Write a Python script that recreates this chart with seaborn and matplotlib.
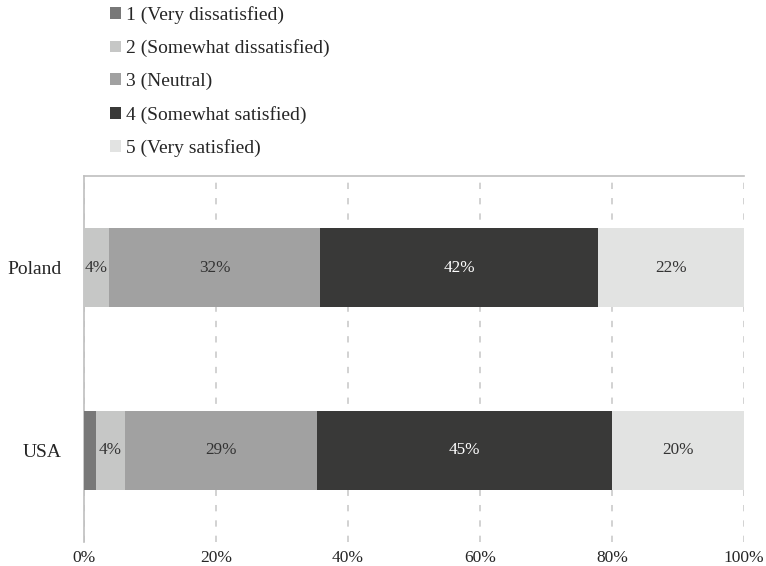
import matplotlib
matplotlib.use("Agg")
import matplotlib.pyplot as plt
from matplotlib.patches import Patch
from matplotlib.ticker import PercentFormatter
import numpy as np
import pandas as pd
import seaborn as sns

sns.set_style("white")
plt.rcParams["font.family"] = ["Liberation Serif", "DejaVu Serif"]

countries = ["Poland", "USA"]
levels = ["1 (Very dissatisfied)", "2 (Somewhat dissatisfied)", "3 (Neutral)",
          "4 (Somewhat satisfied)", "5 (Very satisfied)"]
poland = [0.0, 3.8, 32.0, 42.1, 22.1]
usa = [1.8, 4.4, 29.1, 44.7, 20.0]
colors = ["#787878", "#c6c7c6", "#a1a1a1", "#393938", "#e2e3e2"]
label_colors = ["#333333", "#333333", "#333333", "#ffffff", "#333333"]

df = pd.DataFrame([poland, usa], index=countries, columns=levels)
cum = df.cumsum(axis=1)

fig = plt.figure(figsize=(7.66, 5.66), dpi=100)
ax = fig.add_axes([84 / 766, 24 / 566, 660 / 766, 366 / 566])

# stacked look: draw cumulative totals from the widest down
for i in reversed(range(len(levels))):
    sns.barplot(x=cum[levels[i]].values, y=countries, orient="h", color=colors[i],
                saturation=1, width=0.437, linewidth=0, ax=ax, zorder=3)

for i, lev in enumerate(levels):
    for j, c in enumerate(countries):
        v = df.loc[c, lev]
        if v < 3:
            continue
        x = cum.loc[c, lev] - v / 2
        ax.text(x, j, f"{v:.0f}%", ha="center", va="center", fontsize=12.3,
                color=label_colors[i], zorder=4)

ax.set_xlim(0, 100)
ax.set_ylim(1.5, -0.5)
ax.set_xticks(range(0, 101, 20))
ax.xaxis.set_major_formatter(PercentFormatter(decimals=0))
ax.xaxis.grid(True, linestyle=(0, (3.5, 5)), color="#cfcfcf", linewidth=1.3, zorder=0)
ax.set_xlabel("")
ax.set_ylabel("")
ax.tick_params(axis="x", length=0, pad=5.5, labelsize=12.5, labelcolor="#262626")
ax.tick_params(axis="y", length=0, pad=16, labelsize=14, labelcolor="#262626")
for side in ["right", "bottom"]:
    ax.spines[side].set_visible(False)
for side in ["left", "top"]:
    ax.spines[side].set_color("#bfbfbf")
    ax.spines[side].set_linewidth(1.2)

handles = [Patch(facecolor=col, edgecolor="none") for col in colors]
fig.legend(handles, levels, loc="upper left", bbox_to_anchor=(110 / 766, 1 - 6 / 566),
           frameon=False, fontsize=14, handlelength=0.56, handleheight=0.56,
           handletextpad=0.25, labelspacing=0.8, borderpad=0, borderaxespad=0,
           labelcolor="#262626")

fig.savefig("out.png", dpi=100)
